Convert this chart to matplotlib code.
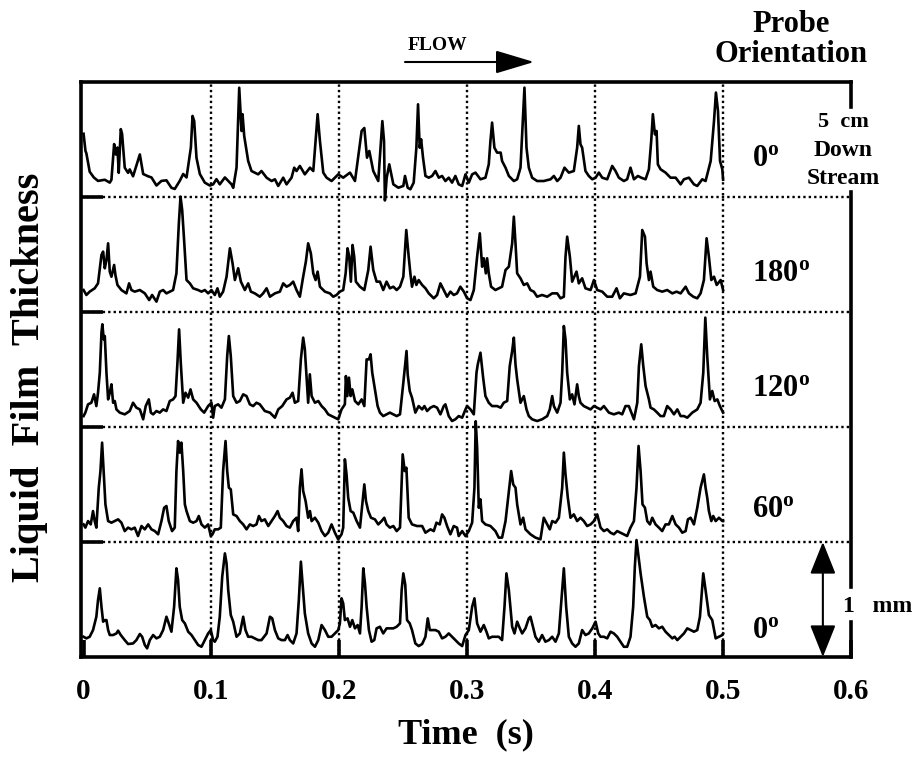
import numpy as np
import matplotlib
matplotlib.use("Agg")
import matplotlib.pyplot as plt

plt.rcParams['font.family'] = ['Liberation Serif', 'DejaVu Serif']
plt.rcParams['font.weight'] = 'bold'
plt.rcParams['mathtext.fontset'] = 'custom'
plt.rcParams['mathtext.bf'] = 'Liberation Serif:bold'
plt.rcParams['mathtext.rm'] = 'Liberation Serif:bold'

# time (ms), film thickness (mm)
trace_0_down = [
    (0, 0.55), (1.5, 0.40), (2.2, 0.38), (4.8, 0.22), (8.0, 0.17), (11.3, 0.14), (16.6, 0.15), (20.5, 0.125),
    (21.8, 0.15), (23.9, 0.46), (25.2, 0.37), (26.5, 0.43), (27.5, 0.21), (29.1, 0.59), (30.1, 0.55), (32.2, 0.255),
    (34.8, 0.21), (36.1, 0.24), (38.7, 0.18), (44.0, 0.37), (46.6, 0.20), (50.5, 0.18), (53.1, 0.17), (57.0, 0.10),
    (60.9, 0.14), (64.8, 0.145), (68.7, 0.08), (71.3, 0.07), (75.2, 0.14), (77.9, 0.20), (80.5, 0.17), (83.9, 0.43),
    (85.2, 0.705), (86.5, 0.66), (88.3, 0.34), (90.9, 0.20), (94.8, 0.125), (98.7, 0.10), (101.3, 0.11), (103.9, 0.155),
    (106.5, 0.11), (110.5, 0.17), (115.7, 0.11), (117.0, 0.08), (119.6, 0.255), (121.7, 0.95), (123.5, 0.574), (124.3, 0.72),
    (125.6, 0.53), (128.7, 0.313), (131.3, 0.226), (133.9, 0.212), (136.5, 0.197), (139.1, 0.226), (143.1, 0.168), (147.0, 0.139),
    (149.6, 0.154), (152.2, 0.096), (156.1, 0.168), (158.7, 0.11), (162.6, 0.168), (164.7, 0.255), (166.5, 0.226), (169.1, 0.27),
    (173.0, 0.197), (177.0, 0.255), (179.6, 0.226), (183.0, 0.72), (184.8, 0.487), (187.4, 0.212), (190.0, 0.168), (193.9, 0.139),
    (199.1, 0.197), (203.0, 0.168), (208.3, 0.212), (212.2, 0.139), (217.4, 0.574), (219.5, 0.60), (221.6, 0.342), (223.4, 0.40),
    (226.5, 0.226), (230.4, 0.139), (233.6, 0.66), (234.9, 0.487), (235.6, -0.03), (237.0, 0.168), (239.0, 0.284), (242.2, 0.11),
    (246.1, 0.081), (250.0, 0.096), (251.3, 0.183), (253.4, 0.081), (255.5, 0.067), (258.1, 0.125), (260.2, 0.429), (261.5, 0.806),
    (262.8, 0.429), (263.9, 0.502), (265.4, 0.342), (267.3, 0.183), (269.9, 0.168), (272.5, 0.183), (275.1, 0.226), (277.7, 0.168),
    (280.3, 0.183), (282.9, 0.139), (285.5, 0.168), (288.1, 0.125), (290.7, 0.183), (293.3, 0.11), (296.0, 0.096), (298.6, 0.197),
    (301.2, 0.125), (303.8, 0.197), (306.4, 0.212), (310.3, 0.154), (314.2, 0.168), (316.8, 0.284), (318.1, 0.487), (319.4, 0.647),
    (321.2, 0.429), (323.3, 0.386), (326.1, 0.386), (327.2, 0.313), (329.9, 0.255), (332.5, 0.183), (336.4, 0.139), (339.0, 0.154),
    (341.6, 0.255), (343.7, 0.72), (344.7, 0.951), (346.3, 0.429), (348.1, 0.255), (350.7, 0.168), (354.6, 0.139), (359.8, 0.139),
    (365.1, 0.154), (367.7, 0.183), (370.3, 0.139), (372.9, 0.168), (376.0, 0.255), (379.4, 0.212), (383.3, 0.226), (385.9, 0.429),
    (387.2, 0.618), (388.5, 0.458), (389.8, 0.429), (392.4, 0.226), (395.0, 0.183), (397.7, 0.154), (400.3, 0.168), (402.9, 0.212),
    (405.5, 0.168), (409.4, 0.154), (413.3, 0.27), (415.9, 0.226), (418.5, 0.168), (422.4, 0.139), (425.0, 0.154), (427.6, 0.255),
    (430.3, 0.154), (433.4, 0.183), (436.0, 0.168), (439.4, 0.154), (442.0, 0.241), (443.8, 0.487), (445.1, 0.72), (446.7, 0.545),
    (448.0, 0.574), (449.0, 0.284), (451.1, 0.241), (455.0, 0.212), (458.9, 0.168), (462.9, 0.168), (466.8, 0.11), (469.4, 0.154),
    (473.3, 0.168), (477.2, 0.11), (479.8, 0.096), (483.7, 0.154), (486.3, 0.139), (490.3, 0.313), (492.9, 0.661), (494.4, 0.908),
    (496.0, 0.748), (497.6, 0.313), (499.4, 0.241), (500.0, 0.15),
]

trace_180 = [
    (0, 0.191), (2.2, 0.148), (4.8, 0.177), (8.7, 0.206), (11.3, 0.249), (14.0, 0.496), (15.3, 0.525), (16.6, 0.380),
    (17.9, 0.452), (19.2, 0.597), (20.5, 0.351), (21.8, 0.307), (23.9, 0.409), (24.9, 0.322), (26.5, 0.235), (29.6, 0.191),
    (33.5, 0.162), (35.6, 0.249), (37.4, 0.191), (40.0, 0.177), (44.0, 0.191), (47.9, 0.162), (51.3, 0.104), (53.6, 0.148),
    (57.0, 0.090), (59.6, 0.177), (62.2, 0.191), (64.8, 0.162), (70.0, 0.191), (72.6, 0.336), (74.5, 0.771), (75.8, 1.003),
    (77.1, 0.887), (78.6, 0.626), (80.5, 0.278), (83.1, 0.249), (85.7, 0.206), (89.6, 0.191), (92.2, 0.177), (94.8, 0.191),
    (97.4, 0.162), (100.0, 0.191), (102.6, 0.148), (104.7, 0.206), (106.5, 0.133), (109.1, 0.177), (111.8, 0.307), (114.4, 0.554),
    (116.5, 0.423), (118.3, 0.278), (120.9, 0.380), (123.0, 0.264), (126.1, 0.191), (128.7, 0.249), (130.8, 0.177), (133.9, 0.162),
    (137.8, 0.133), (140.4, 0.162), (143.1, 0.206), (145.7, 0.133), (149.6, 0.162), (153.5, 0.177), (156.1, 0.249), (158.7, 0.220),
    (161.3, 0.235), (163.9, 0.264), (166.5, 0.191), (169.1, 0.133), (171.7, 0.307), (173.8, 0.438), (175.6, 0.597), (177.7, 0.510),
    (179.6, 0.336), (181.4, 0.278), (183.0, 0.351), (184.8, 0.220), (188.7, 0.177), (192.6, 0.162), (195.2, 0.133), (197.8, 0.148),
    (200.4, 0.177), (203.0, 0.191), (204.9, 0.336), (206.4, 0.554), (207.7, 0.481), (209.0, 0.264), (210.3, 0.583), (211.6, 0.481),
    (212.9, 0.264), (216.1, 0.220), (219.5, 0.191), (222.6, 0.365), (224.4, 0.568), (226.5, 0.365), (229.1, 0.264), (231.7, 0.264),
    (234.3, 0.191), (236.9, 0.264), (239.5, 0.206), (242.2, 0.220), (244.8, 0.191), (247.4, 0.220), (250.0, 0.307), (252.3, 0.713),
    (254.2, 0.481), (255.5, 0.336), (256.8, 0.220), (258.7, 0.307), (260.2, 0.235), (262.0, 0.278), (264.7, 0.235), (267.3, 0.206),
    (269.9, 0.162), (273.8, 0.119), (276.4, 0.148), (279.0, 0.249), (281.6, 0.191), (284.2, 0.133), (286.8, 0.177), (289.4, 0.148),
    (292.0, 0.162), (294.6, 0.220), (297.3, 0.177), (299.9, 0.119), (302.5, 0.104), (305.1, 0.191), (307.7, 0.481), (309.8, 0.684),
    (311.6, 0.394), (312.9, 0.467), (314.5, 0.336), (315.5, 0.467), (316.8, 0.336), (318.6, 0.220), (322.0, 0.191), (324.6, 0.206),
    (327.2, 0.220), (329.9, 0.365), (332.5, 0.394), (335.1, 0.597), (336.4, 0.829), (337.7, 0.597), (339.0, 0.336), (341.6, 0.293),
    (344.2, 0.235), (346.8, 0.249), (349.4, 0.191), (352.0, 0.177), (354.6, 0.133), (358.5, 0.148), (362.5, 0.133), (366.4, 0.162),
    (370.3, 0.162), (372.9, 0.119), (375.5, 0.133), (376.8, 0.481), (378.1, 0.655), (380.2, 0.481), (382.0, 0.264), (385.4, 0.351),
    (387.2, 0.249), (389.8, 0.293), (392.4, 0.206), (396.4, 0.191), (399.0, 0.278), (401.6, 0.191), (405.5, 0.177), (409.4, 0.133),
    (413.3, 0.133), (416.7, 0.206), (419.3, 0.119), (422.4, 0.162), (427.6, 0.148), (431.6, 0.162), (435.0, 0.307), (436.8, 0.713),
    (438.9, 0.655), (440.2, 0.423), (442.0, 0.278), (443.3, 0.351), (445.4, 0.220), (448.5, 0.191), (452.4, 0.177), (456.3, 0.191),
    (460.3, 0.162), (463.6, 0.177), (466.8, 0.162), (470.7, 0.220), (473.3, 0.162), (476.7, 0.133), (479.8, 0.119), (482.4, 0.162),
    (485.0, 0.278), (487.1, 0.641), (488.9, 0.481), (490.8, 0.278), (492.9, 0.307), (495.0, 0.235), (498.1, 0.278), (500.0, 0.191),
]

trace_120 = [
    (0, 0.095), (1.4, 0.125), (3.5, 0.197), (6.1, 0.211), (8.2, 0.284), (10.0, 0.182), (11.3, 0.298), (12.7, 0.472),
    (14.0, 0.820), (14.7, 0.893), (15.8, 0.762), (16.6, 0.791), (17.9, 0.472), (19.2, 0.240), (20.5, 0.298), (21.8, 0.371),
    (23.1, 0.211), (24.4, 0.226), (25.7, 0.153), (28.3, 0.125), (32.2, 0.110), (36.1, 0.139), (38.7, 0.211), (41.3, 0.168),
    (44.0, 0.153), (46.6, 0.067), (48.6, 0.182), (51.0, 0.240), (52.6, 0.125), (54.4, 0.110), (57.0, 0.139), (59.6, 0.125),
    (62.2, 0.153), (64.8, 0.139), (67.4, 0.226), (70.0, 0.240), (71.9, 0.269), (73.4, 0.559), (74.7, 0.849), (76.0, 0.559),
    (77.9, 0.211), (79.7, 0.298), (81.8, 0.255), (83.6, 0.327), (85.7, 0.240), (88.3, 0.211), (91.7, 0.153), (94.3, 0.125),
    (97.4, 0.182), (100.0, 0.211), (101.3, 0.081), (102.6, 0.182), (105.2, 0.197), (107.8, 0.168), (110.5, 0.240), (112.3, 0.617),
    (113.6, 0.791), (115.1, 0.617), (117.0, 0.269), (119.6, 0.211), (122.2, 0.226), (124.8, 0.284), (127.4, 0.269), (130.0, 0.197),
    (132.6, 0.182), (135.2, 0.211), (137.8, 0.197), (141.7, 0.139), (145.7, 0.125), (149.6, 0.081), (152.2, 0.153), (155.3, 0.182),
    (158.7, 0.240), (161.3, 0.255), (163.4, 0.298), (165.2, 0.211), (167.8, 0.226), (169.9, 0.588), (171.7, 0.777), (173.0, 0.675),
    (174.3, 0.443), (175.6, 0.211), (176.9, 0.458), (178.3, 0.269), (180.9, 0.211), (183.5, 0.226), (186.1, 0.182), (188.7, 0.153),
    (191.3, 0.110), (193.9, 0.095), (196.5, 0.081), (199.1, 0.067), (201.7, 0.153), (204.3, 0.197), (205.1, 0.443), (206.2, 0.269),
    (207.5, 0.429), (208.8, 0.269), (210.1, 0.327), (212.2, 0.226), (214.8, 0.197), (217.4, 0.240), (219.5, 0.182), (221.3, 0.588),
    (223.1, 0.588), (224.4, 0.632), (225.7, 0.472), (227.8, 0.327), (229.9, 0.182), (231.7, 0.125), (234.3, 0.095), (236.9, 0.110),
    (239.5, 0.125), (242.2, 0.110), (244.8, 0.095), (247.4, 0.110), (250.0, 0.385), (252.5, 0.661), (253.4, 0.458), (255.0, 0.313),
    (256.8, 0.255), (259.4, 0.125), (262.0, 0.182), (264.7, 0.153), (266.5, 0.182), (268.6, 0.139), (271.2, 0.168), (273.8, 0.182),
    (276.4, 0.168), (279.0, 0.110), (281.6, 0.182), (282.9, 0.197), (285.5, 0.095), (288.1, 0.052), (290.7, 0.067), (293.3, 0.095),
    (296.0, 0.081), (298.6, 0.153), (299.9, 0.182), (302.5, 0.153), (305.1, 0.110), (307.2, 0.472), (308.2, 0.544), (310.3, 0.646),
    (312.4, 0.429), (314.2, 0.269), (316.8, 0.211), (319.4, 0.182), (323.3, 0.182), (326.1, 0.168), (328.5, 0.211), (331.2, 0.226),
    (333.2, 0.530), (335.1, 0.661), (336.4, 0.777), (337.7, 0.544), (339.0, 0.414), (341.6, 0.211), (344.2, 0.269), (346.3, 0.153),
    (348.1, 0.095), (350.7, 0.067), (354.6, 0.052), (358.5, 0.067), (362.5, 0.095), (364.5, 0.153), (366.4, 0.269), (367.7, 0.182),
    (370.3, 0.125), (372.9, 0.211), (374.2, 0.472), (375.5, 0.878), (376.8, 0.762), (378.1, 0.472), (380.2, 0.240), (382.0, 0.284),
    (383.8, 0.197), (385.9, 0.371), (387.2, 0.269), (388.5, 0.211), (391.1, 0.182), (393.7, 0.168), (396.4, 0.153), (399.0, 0.182),
    (401.6, 0.168), (404.2, 0.153), (406.8, 0.182), (410.7, 0.125), (414.6, 0.110), (418.5, 0.125), (421.1, 0.110), (423.7, 0.182),
    (426.3, 0.182), (430.3, 0.067), (432.9, 0.211), (434.2, 0.530), (436.0, 0.719), (437.6, 0.530), (439.4, 0.356), (442.0, 0.240),
    (443.3, 0.168), (445.9, 0.153), (448.5, 0.125), (451.1, 0.095), (453.7, 0.095), (456.3, 0.182), (458.9, 0.153), (461.6, 0.110),
    (464.2, 0.153), (466.8, 0.095), (469.4, 0.095), (472.0, 0.081), (475.9, 0.125), (479.8, 0.153), (482.4, 0.211), (484.5, 0.472),
    (486.1, 0.951), (487.6, 0.617), (489.7, 0.240), (491.5, 0.313), (493.4, 0.226), (495.5, 0.240), (497.5, 0.182), (500.0, 0.125),
]

trace_60 = [
    (0, 0.153), (1.4, 0.125), (3.5, 0.182), (5.6, 0.153), (7.4, 0.269), (8.7, 0.182), (10.0, 0.125), (11.9, 0.472),
    (13.2, 0.617), (14.5, 0.864), (15.8, 0.588), (17.1, 0.327), (19.2, 0.182), (21.8, 0.168), (24.4, 0.182), (27.0, 0.197),
    (29.6, 0.168), (32.2, 0.095), (34.8, 0.125), (37.4, 0.110), (40.0, 0.125), (42.6, 0.052), (45.3, 0.139), (47.9, 0.110),
    (50.5, 0.153), (53.1, 0.110), (55.7, 0.095), (58.3, 0.067), (60.9, 0.182), (63.0, 0.298), (64.8, 0.313), (66.6, 0.182),
    (69.2, 0.095), (71.3, 0.125), (72.6, 0.617), (73.9, 0.878), (75.2, 0.777), (76.5, 0.864), (77.9, 0.617), (79.2, 0.327),
    (80.5, 0.269), (83.1, 0.182), (85.7, 0.168), (88.3, 0.182), (90.1, 0.226), (92.2, 0.153), (94.8, 0.125), (97.4, 0.153),
    (99.5, 0.052), (100.8, 0.067), (102.6, 0.110), (105.2, 0.110), (107.3, 0.125), (109.1, 0.617), (111.0, 0.878), (112.3, 0.617),
    (113.6, 0.472), (115.1, 0.458), (117.0, 0.240), (119.6, 0.226), (122.2, 0.182), (124.8, 0.153), (127.4, 0.110), (130.0, 0.153),
    (132.6, 0.139), (135.2, 0.153), (137.1, 0.226), (139.1, 0.182), (141.7, 0.197), (144.4, 0.139), (147.0, 0.182), (149.6, 0.226),
    (151.7, 0.269), (153.5, 0.211), (156.1, 0.182), (158.7, 0.139), (161.3, 0.125), (163.9, 0.182), (166.5, 0.211), (167.8, 0.095),
    (169.1, 0.472), (170.4, 0.632), (171.7, 0.443), (173.6, 0.356), (175.6, 0.211), (177.0, 0.269), (178.3, 0.182), (180.9, 0.211),
    (183.5, 0.168), (186.1, 0.095), (188.7, 0.052), (191.3, 0.081), (193.9, 0.153), (196.5, 0.081), (199.1, 0.023), (201.7, 0.067),
    (203.0, 0.125), (204.3, 0.719), (205.6, 0.588), (206.9, 0.385), (208.8, 0.269), (210.9, 0.255), (213.5, 0.182), (216.1, 0.125),
    (217.9, 0.327), (219.5, 0.501), (220.8, 0.356), (222.6, 0.269), (224.7, 0.211), (227.8, 0.197), (230.4, 0.153), (233.0, 0.182),
    (235.1, 0.211), (236.9, 0.153), (239.5, 0.125), (242.2, 0.139), (244.8, 0.095), (247.4, 0.125), (249.5, 0.762), (251.1, 0.617),
    (252.4, 0.646), (254.2, 0.211), (256.8, 0.153), (260.7, 0.139), (264.7, 0.139), (267.3, 0.081), (271.2, 0.110), (273.8, 0.095),
    (275.9, 0.168), (278.5, 0.153), (280.3, 0.240), (282.1, 0.211), (284.2, 0.139), (286.8, 0.067), (289.4, 0.139), (292.0, 0.125),
    (293.3, 0.052), (296.0, 0.095), (298.6, 0.052), (301.2, 0.095), (303.8, 0.168), (305.6, 0.472), (306.6, 1.05), (307.7, 0.820),
    (309.0, 0.298), (310.3, 0.371), (311.6, 0.182), (314.2, 0.153), (318.1, 0.139), (322.0, 0.095), (324.6, 0.038), (327.2, 0.038),
    (329.9, 0.182), (332.5, 0.443), (334.3, 0.617), (335.9, 0.501), (337.7, 0.472), (339.0, 0.327), (341.6, 0.153), (343.7, 0.211),
    (345.5, 0.110), (349.4, 0.067), (353.3, 0.038), (357.2, 0.023), (359.8, 0.211), (362.5, 0.153), (364.5, 0.110), (366.4, 0.182),
    (369.0, 0.168), (371.6, 0.211), (374.2, 0.472), (375.5, 0.777), (376.8, 0.588), (378.6, 0.385), (380.7, 0.211), (383.3, 0.240),
    (385.9, 0.182), (388.5, 0.211), (391.1, 0.182), (393.7, 0.139), (396.4, 0.153), (399.0, 0.182), (401.6, 0.240), (404.2, 0.125),
    (406.8, 0.095), (409.4, 0.110), (412.0, 0.081), (414.6, 0.067), (417.2, 0.095), (419.8, 0.081), (422.4, 0.067), (425.0, 0.052),
    (427.6, 0.125), (430.3, 0.182), (432.3, 0.472), (433.9, 0.835), (435.5, 0.617), (437.0, 0.327), (438.9, 0.298), (440.7, 0.182),
    (442.8, 0.153), (444.6, 0.211), (447.2, 0.153), (449.8, 0.125), (452.4, 0.095), (455.0, 0.153), (457.6, 0.153), (460.3, 0.226),
    (462.9, 0.153), (465.5, 0.125), (468.1, 0.081), (470.7, 0.095), (472.5, 0.197), (474.6, 0.211), (477.2, 0.153), (479.8, 0.298),
    (482.4, 0.472), (483.7, 0.530), (485.0, 0.588), (486.3, 0.472), (487.6, 0.385), (488.9, 0.269), (490.8, 0.182), (492.3, 0.226),
    (494.2, 0.182), (496.8, 0.211), (499.4, 0.182), (500.0, 0.182),
]

trace_0 = [
    (0, 0.176), (2.2, 0.162), (4.8, 0.176), (7.4, 0.234), (10.0, 0.350), (11.3, 0.495), (12.7, 0.597), (14.0, 0.437),
    (15.3, 0.307), (16.6, 0.321), (17.9, 0.321), (19.2, 0.234), (20.5, 0.191), (23.1, 0.191), (25.7, 0.205), (27.0, 0.229),
    (29.1, 0.191), (32.2, 0.147), (34.8, 0.113), (38.7, 0.118), (41.3, 0.147), (44.0, 0.200), (45.8, 0.176), (47.9, 0.104),
    (49.7, 0.075), (51.8, 0.147), (54.4, 0.191), (57.0, 0.162), (59.6, 0.176), (62.2, 0.234), (64.8, 0.350), (66.6, 0.292),
    (68.7, 0.220), (70.8, 0.437), (72.6, 0.771), (73.9, 0.669), (75.2, 0.437), (77.1, 0.321), (79.2, 0.292), (81.8, 0.220),
    (84.4, 0.191), (87.0, 0.147), (89.6, 0.104), (92.2, 0.089), (94.8, 0.147), (97.4, 0.205), (99.5, 0.234), (101.3, 0.147),
    (102.6, 0.133), (104.7, 0.176), (106.5, 0.350), (108.4, 0.698), (110.5, 0.901), (111.8, 0.814), (113.1, 0.582), (115.1, 0.365),
    (117.0, 0.307), (119.6, 0.176), (122.2, 0.205), (124.8, 0.350), (126.6, 0.234), (128.7, 0.176), (131.3, 0.176), (133.9, 0.162),
    (136.5, 0.147), (139.1, 0.147), (143.1, 0.205), (145.7, 0.350), (147.5, 0.336), (149.6, 0.234), (152.2, 0.162), (154.8, 0.147),
    (157.4, 0.147), (159.5, 0.191), (161.3, 0.147), (163.9, 0.118), (166.5, 0.205), (168.3, 0.495), (169.9, 0.829), (171.2, 0.640),
    (173.0, 0.379), (175.6, 0.205), (178.3, 0.118), (180.9, 0.089), (183.5, 0.147), (186.1, 0.278), (188.7, 0.234), (191.3, 0.176),
    (193.9, 0.176), (196.5, 0.205), (199.1, 0.234), (200.4, 0.292), (201.7, 0.510), (203.0, 0.466), (204.3, 0.321), (206.4, 0.336),
    (208.3, 0.263), (210.1, 0.321), (212.2, 0.249), (214.3, 0.278), (216.1, 0.205), (217.4, 0.437), (218.7, 0.771), (220.0, 0.640),
    (221.3, 0.437), (223.1, 0.234), (225.2, 0.133), (227.3, 0.147), (229.1, 0.249), (231.7, 0.263), (234.3, 0.205), (236.9, 0.249),
    (239.5, 0.249), (242.2, 0.249), (244.8, 0.263), (247.4, 0.292), (248.7, 0.582), (250.0, 0.727), (251.5, 0.630), (252.9, 0.321),
    (255.0, 0.292), (256.8, 0.234), (259.4, 0.118), (262.0, 0.095), (264.7, 0.113), (267.3, 0.176), (269.1, 0.336), (270.7, 0.234),
    (272.5, 0.234), (275.1, 0.234), (277.7, 0.220), (280.3, 0.162), (282.9, 0.176), (285.5, 0.205), (288.1, 0.176), (290.7, 0.147),
    (293.3, 0.118), (296.0, 0.095), (298.6, 0.191), (301.2, 0.234), (303.8, 0.437), (305.6, 0.510), (307.7, 0.292), (310.3, 0.220),
    (312.9, 0.278), (315.0, 0.220), (316.8, 0.162), (319.4, 0.176), (322.0, 0.176), (324.6, 0.176), (327.2, 0.147), (329.1, 0.437),
    (330.6, 0.727), (332.5, 0.582), (335.1, 0.263), (336.9, 0.205), (339.0, 0.307), (341.1, 0.249), (342.9, 0.205), (345.5, 0.249),
    (348.1, 0.336), (349.4, 0.350), (350.7, 0.292), (353.3, 0.176), (355.9, 0.133), (358.5, 0.191), (361.1, 0.133), (363.8, 0.147),
    (366.4, 0.176), (369.0, 0.133), (371.6, 0.205), (373.4, 0.466), (375.5, 0.771), (377.3, 0.437), (379.4, 0.176), (382.0, 0.118),
    (384.6, 0.089), (387.2, 0.118), (389.8, 0.234), (392.4, 0.191), (395.0, 0.205), (397.7, 0.249), (400.3, 0.307), (402.4, 0.205),
    (404.2, 0.176), (406.8, 0.176), (409.4, 0.162), (412.0, 0.220), (414.6, 0.205), (417.2, 0.176), (419.8, 0.133), (422.4, 0.089),
    (425.0, 0.089), (427.6, 0.176), (429.7, 0.437), (431.0, 0.785), (432.3, 1.017), (433.6, 0.901), (435.5, 0.727), (438.1, 0.524),
    (440.7, 0.350), (442.8, 0.321), (444.6, 0.263), (447.2, 0.278), (449.8, 0.249), (452.4, 0.263), (455.0, 0.220), (457.6, 0.191),
    (460.3, 0.162), (462.1, 0.176), (464.2, 0.147), (466.8, 0.176), (469.4, 0.205), (472.0, 0.249), (474.6, 0.234), (477.2, 0.220),
    (479.8, 0.234), (481.9, 0.350), (484.5, 0.727), (486.3, 0.582), (488.9, 0.365), (491.5, 0.321), (494.2, 0.162), (496.8, 0.176),
    (499.4, 0.191), (500.0, 0.205),
]

traces = [trace_0, trace_60, trace_120, trace_180, trace_0_down]   # bottom to top, each row is 1 mm tall
row_labels = ['0', '60', '120', '180', '0']
tick_vals = [0, 0.1, 0.2, 0.3, 0.4, 0.5, 0.6]
tick_text = ['0', '0.1', '0.2', '0.3', '0.4', '0.5', '0.6']

W, H = 920, 758
fig = plt.figure(figsize=(W / 100, H / 100), dpi=100)
ax = fig.add_axes([81 / W, 1 - 657 / H, 770 / W, 575 / H])
ax.set_xlim(-0.002, 0.6)
ax.set_ylim(0, 5)

# dotted grid
dots = (0, (1, 1.3))
for x in [0.1, 0.2, 0.3, 0.4, 0.5]:
    ax.axvline(x, color='black', lw=1.7, ls=dots, zorder=1)
for y in [1, 2, 3, 4]:
    ax.axhline(y, color='black', lw=1.7, ls=dots, zorder=1)

for i, tr in enumerate(traces):
    d = np.array(tr)
    ax.plot(d[:, 0] / 1000, d[:, 1] + i, color='black', lw=1.9, zorder=3)

for s in ['left', 'top', 'bottom']:
    ax.spines[s].set_linewidth(2.6)
ax.spines['right'].set_visible(False)
# right border is broken around the side labels
for y0, y1 in [(0.9565, 1.0), (0.121, 0.809), (0.0, 0.061)]:
    ax.plot([1, 1], [y0, y1], transform=ax.transAxes, color='black', lw=2.6, clip_on=False, solid_capstyle='projecting')

ax.set_xticks(tick_vals)
ax.set_xticklabels(tick_text, fontsize=21, fontweight='bold')
ax.tick_params(axis='x', direction='in', length=12, width=2.6, pad=15)
ax.set_yticks([1, 2, 3, 4])
ax.set_yticklabels([])
ax.tick_params(axis='y', direction='in', length=16, width=2.6)

ax.set_xlabel('Time  (s)', fontsize=26, fontweight='bold', labelpad=10)
fig.text(30 / W, 1 - 377 / H, 'Liquid  Film  Thickness', rotation=90, fontsize=29,
         fontweight='bold', ha='center', va='center')

# probe orientation labels
baselines = [638, 517, 396, 281, 166]
for lab, yb in zip(row_labels, baselines):
    fig.text(752 / W, 1 - yb / H, r'$\mathbf{' + lab + r'^{o}}$', fontsize=22, ha='left', va='baseline')

fig.text(791 / W, 1 - 24 / H, 'Probe', fontsize=22, fontweight='bold', ha='center', va='center')
fig.text(791 / W, 1 - 54 / H, 'Orientation', fontsize=22, fontweight='bold', ha='center', va='center')
fig.text(843 / W, 1 - 122 / H, '5  cm', fontsize=16, fontweight='bold', ha='center', va='center')
fig.text(843 / W, 1 - 151 / H, 'Down', fontsize=17, fontweight='bold', ha='center', va='center')
fig.text(843 / W, 1 - 179 / H, 'Stream', fontsize=17, fontweight='bold', ha='center', va='center')
fig.text(843 / W, 1 - 612 / H, '1   mm', fontsize=17, fontweight='bold', ha='left', va='baseline')

# FLOW arrow
fig.text(437 / W, 1 - 46 / H, 'FLOW', fontsize=14, fontweight='bold', ha='center', va='center')
ax.annotate('', xy=(534 / W, 1 - 62 / H), xytext=(405 / W, 1 - 62 / H), xycoords='figure fraction',
            arrowprops=dict(arrowstyle='-|>,head_length=1.2,head_width=0.36', lw=1.5, color='black',
                            mutation_scale=20, shrinkA=0, shrinkB=0))

# 1 mm scale bar
ax.annotate('', xy=(0.578, 1.0), xytext=(0.578, 0.0),
            arrowprops=dict(arrowstyle='<|-|>,head_length=1.0,head_width=0.4', lw=1.5, color='black',
                            mutation_scale=20, shrinkA=0, shrinkB=0))

fig.savefig('out.png', dpi=100)
